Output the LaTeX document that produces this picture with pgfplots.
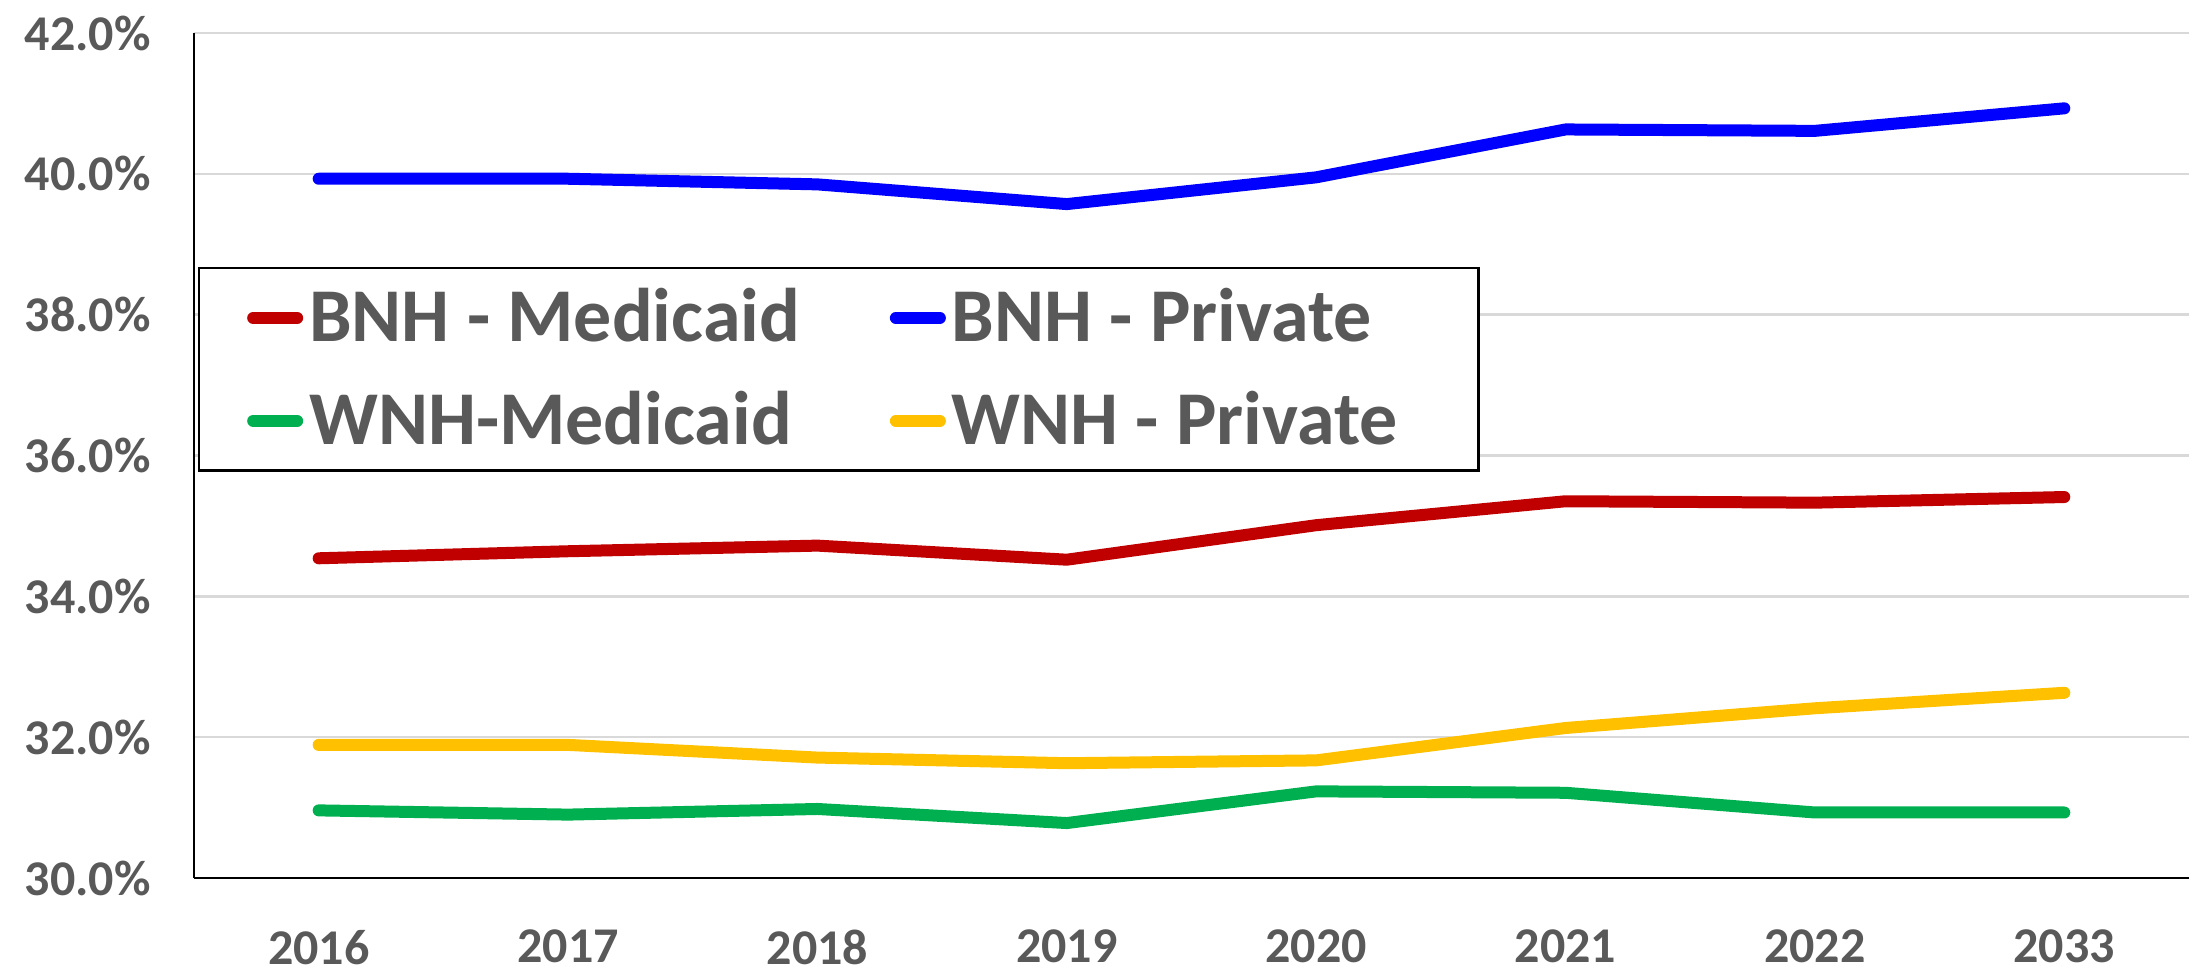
\documentclass[border=0pt]{standalone}
\usepackage{fontspec}
\setmainfont{Carlito}
\usepackage{pgfplots}
\pgfplotsset{compat=1.18}

\definecolor{txtgray}{HTML}{595959}
\definecolor{gridgray}{HTML}{D9D9D9}
\definecolor{bnhmed}{HTML}{C00000}
\definecolor{bnhpriv}{HTML}{0000FF}
\definecolor{wnhmed}{HTML}{00B050}
\definecolor{wnhpriv}{HTML}{FFC000}

\begin{document}
\begin{tikzpicture}
\begin{axis}[
    name=ax,
    scale only axis,
    width=498.75pt, height=211.25pt,
    xmin=-0.5, xmax=7.5, ymin=30, ymax=42,
    axis x line=bottom, axis y line=left,
    axis line style={-, black, line width=0.6pt},
    ymajorgrids, grid style={gridgray, line width=0.6pt},
    ytick={30,32,...,42},
    yticklabels={30.0\%,32.0\%,34.0\%,36.0\%,38.0\%,40.0\%,42.0\%},
    xtick={0,...,7},
    xticklabels={2016,2017,2018,2019,2020,2021,2022,2033},
    major tick length=0pt,
    tick label style={font=\fontsize{12.5}{15}\selectfont\bfseries, text=txtgray},
    yticklabel style={xshift=-7.3pt},
    xticklabel style={yshift=-9.5pt},
    every axis plot/.append style={line width=3pt, line cap=round, line join=round, mark=none},
    legend style={at={(0.002,0.723)}, anchor=north west,
        draw=black, line width=0.6pt, fill=white,
        font=\fontsize{19}{22}\selectfont\bfseries, text=txtgray,
        inner xsep=12pt, inner ysep=3pt, row sep=6.9pt,
        nodes={inner xsep=1.5pt, inner ysep=2pt},
        /tikz/every even column/.append style={column sep=21pt}},
    legend columns=2,
    legend cell align=left,
    legend image code/.code={\draw[line width=3pt, line cap=round] (1.5pt,0pt) -- (12.5pt,0pt);},
]
\addplot[bnhmed] coordinates {(0,34.54) (1,34.64) (2,34.72) (3,34.52) (4,35.01) (5,35.35) (6,35.33) (7,35.41)};
\addplot[bnhpriv] coordinates {(0,39.93) (1,39.93) (2,39.85) (3,39.57) (4,39.95) (5,40.63) (6,40.61) (7,40.93)};
\addplot[wnhmed] coordinates {(0,30.96) (1,30.90) (2,30.98) (3,30.78) (4,31.23) (5,31.21) (6,30.93) (7,30.93)};
\addplot[wnhpriv] coordinates {(0,31.89) (1,31.89) (2,31.71) (3,31.63) (4,31.67) (5,32.13) (6,32.41) (7,32.63)};
\legend{BNH - Medicaid, BNH - Private, WNH-Medicaid, WNH - Private\rule{6.7pt}{0pt}}
\end{axis}
\pgfresetboundingbox
\path ([shift={(-48.5pt,-25.5pt)}]ax.south west) rectangle ([shift={(3.5pt,8.25pt)}]ax.north east);
\end{tikzpicture}
\end{document}
